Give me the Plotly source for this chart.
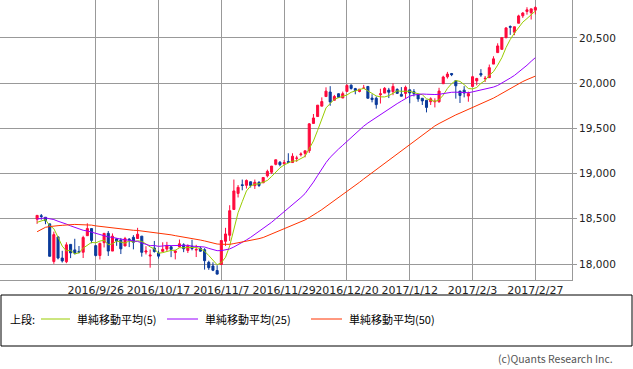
import plotly.graph_objects as go

# ---------------- data ----------------
dates = [
    "2016/9/6", "2016/9/7", "2016/9/8", "2016/9/9", "2016/9/12", "2016/9/13", "2016/9/14", "2016/9/15", "2016/9/16",
    "2016/9/19", "2016/9/20", "2016/9/21", "2016/9/22", "2016/9/23", "2016/9/26", "2016/9/27", "2016/9/28", "2016/9/29",
    "2016/9/30", "2016/10/3", "2016/10/4", "2016/10/5", "2016/10/6", "2016/10/7", "2016/10/10", "2016/10/11",
    "2016/10/12", "2016/10/13", "2016/10/14", "2016/10/17", "2016/10/18", "2016/10/19", "2016/10/20", "2016/10/21",
    "2016/10/24", "2016/10/25", "2016/10/26", "2016/10/27", "2016/10/28", "2016/10/31", "2016/11/1", "2016/11/2",
    "2016/11/3", "2016/11/4", "2016/11/7", "2016/11/8", "2016/11/9", "2016/11/10", "2016/11/11", "2016/11/14",
    "2016/11/15", "2016/11/16", "2016/11/17", "2016/11/18", "2016/11/21", "2016/11/22", "2016/11/23", "2016/11/25",
    "2016/11/28", "2016/11/29", "2016/11/30", "2016/12/1", "2016/12/2", "2016/12/5", "2016/12/6", "2016/12/7",
    "2016/12/8", "2016/12/9", "2016/12/12", "2016/12/13", "2016/12/14", "2016/12/15", "2016/12/16", "2016/12/19",
    "2016/12/20", "2016/12/21", "2016/12/22", "2016/12/23", "2016/12/27", "2016/12/28", "2016/12/29", "2016/12/30",
    "2017/1/3", "2017/1/4", "2017/1/5", "2017/1/6", "2017/1/9", "2017/1/10", "2017/1/11", "2017/1/12", "2017/1/13",
    "2017/1/17", "2017/1/18", "2017/1/19", "2017/1/20", "2017/1/23", "2017/1/24", "2017/1/25", "2017/1/26",
    "2017/1/27", "2017/1/30", "2017/1/31", "2017/2/1", "2017/2/2", "2017/2/3", "2017/2/6", "2017/2/7", "2017/2/8",
    "2017/2/9", "2017/2/10", "2017/2/13", "2017/2/14", "2017/2/15", "2017/2/16", "2017/2/17", "2017/2/21",
    "2017/2/22", "2017/2/23", "2017/2/24", "2017/2/27",
]

opens = [
    18496, 18534, 18517, 18444, 18028, 18300, 18066, 18025, 18217, 18156, 18139, 18130, 18313, 18392, 18203,
    18094, 18236, 18339, 18143, 18279, 18265, 18199, 18275, 18295, 18282, 18308, 18132, 18088, 18177, 18121,
    18140, 18165, 18190, 18127, 18188, 18212, 18150, 18196, 18154, 18175, 18158, 18018, 17978, 17928, 17994,
    18251, 18318, 18603, 18781, 18876, 18870, 18909, 18866, 18904, 18898, 18975, 19015, 19102, 19125, 19108,
    19134, 19122, 19169, 19209, 19224, 19253, 19555, 19631, 19746, 19852, 19902, 19811, 19883, 19836, 19909,
    19978, 19940, 19908, 19943, 19964, 19835, 19833, 19872, 19890, 19924, 19906, 19931, 19876, 19887, 19926,
    19906, 19877, 19833, 19811, 19795, 19794, 19794, 19994, 20070, 20107, 20028, 19913, 19923, 19858, 19964,
    20025, 20107, 20049, 20061, 20211, 20338, 20374, 20504, 20627, 20564, 20663, 20745, 20793, 20780, 20808,
]
highs = [
    18538, 18553, 18517, 18444, 18358, 18300, 18146, 18240, 18217, 18279, 18199, 18312, 18450, 18392, 18203,
    18236, 18339, 18365, 18338, 18279, 18288, 18300, 18286, 18319, 18400, 18309, 18197, 18160, 18255, 18147,
    18240, 18245, 18200, 18156, 18271, 18229, 18217, 18268, 18212, 18192, 18175, 18036, 18019, 17986, 18263,
    18400, 18650, 18934, 18873, 18934, 18935, 18913, 18934, 18915, 18960, 19043, 19083, 19153, 19139, 19150,
    19225, 19225, 19197, 19235, 19252, 19558, 19659, 19757, 19843, 19954, 19967, 19870, 19887, 19907, 19988,
    19987, 19948, 19934, 19981, 19968, 19878, 19853, 19938, 19957, 19948, 19999, 19943, 19957, 19973, 19929,
    19935, 19878, 19836, 19811, 19843, 19833, 19949, 20082, 20125, 20113, 20028, 19913, 19967, 19907, 20081,
    20059, 20155, 20079, 20206, 20298, 20441, 20504, 20620, 20639, 20624, 20757, 20786, 20840, 20822, 20851,
]
lows = [
    18444, 18490, 18440, 18085, 18002, 18051, 18016, 18009, 18065, 18106, 18118, 18066, 18313, 18229, 18084,
    18050, 18183, 18089, 18143, 18201, 18110, 18199, 18187, 18162, 18282, 18081, 18106, 17959, 18126, 18060,
    18130, 18140, 18076, 18051, 18188, 18131, 18122, 18151, 18077, 18137, 17938, 17935, 17921, 17884, 17994,
    18200, 18255, 18603, 18736, 18815, 18835, 18846, 18830, 18851, 18897, 18958, 18995, 19092, 19080, 19100,
    19123, 19122, 19130, 19190, 19180, 19228, 19555, 19631, 19746, 19852, 19750, 19811, 19843, 19836, 19904,
    19929, 19877, 19899, 19941, 19833, 19788, 19718, 19775, 19890, 19835, 19867, 19887, 19855, 19832, 19778,
    19854, 19794, 19759, 19677, 19759, 19732, 19785, 19994, 20051, 20078, 19829, 19781, 19843, 19795, 19962,
    19976, 20070, 20013, 20061, 20211, 20338, 20374, 20496, 20534, 20531, 20663, 20722, 20758, 20704, 20761,
]
closes = [
    18538, 18526, 18479, 18085, 18325, 18066, 18034, 18212, 18123, 18120, 18129, 18293, 18392, 18261, 18094,
    18228, 18339, 18143, 18308, 18254, 18168, 18281, 18269, 18240, 18329, 18129, 18144, 18098, 18138, 18087,
    18162, 18203, 18162, 18145, 18223, 18169, 18199, 18170, 18161, 18142, 18037, 17959, 17931, 17888, 18260,
    18332, 18590, 18808, 18848, 18869, 18924, 18868, 18904, 18868, 18957, 19024, 19083, 19153, 19098, 19122,
    19124, 19192, 19171, 19216, 19252, 19550, 19615, 19757, 19797, 19912, 19793, 19853, 19843, 19884, 19975,
    19942, 19918, 19934, 19946, 19833, 19819, 19763, 19882, 19943, 19900, 19964, 19887, 19856, 19954, 19892,
    19886, 19826, 19804, 19732, 19827, 19800, 19913, 20068, 20101, 20094, 19971, 19864, 19891, 19885, 20071,
    20052, 20090, 20054, 20172, 20269, 20412, 20504, 20611, 20619, 20624, 20744, 20776, 20811, 20822, 20837,
]
# closes of the 49 sessions before the first candle (needed for the moving averages)
prior_closes = [
    17140, 17410, 17695, 17930, 17949, 17841, 17918, 17896, 18147, 18227, 18348, 18372, 18506, 18517, 18534,
    18559, 18595, 18518, 18571, 18494, 18473, 18473, 18456, 18432, 18404, 18314, 18355, 18353, 18544, 18529,
    18534, 18495, 18613, 18576, 18636, 18552, 18574, 18598, 18553, 18530, 18548, 18482, 18448, 18395, 18503,
    18454, 18401, 18419, 18492,
]

tick_dates = ["2016/9/26", "2016/10/17", "2016/11/7", "2016/11/29", "2016/12/20", "2017/1/12", "2017/2/3", "2017/2/27"]
y_ticks = [18000, 18500, 19000, 19500, 20000, 20500]
y_ticktext = ["18,000", "18,500", "19,000", "19,500", "20,000", "20,500"]

ma_periods = [5, 25, 50]
ma_names = ["単純移動平均(5)", "単純移動平均(25)", "単純移動平均(50)"]
ma_colors = ["#99CC00", "#9900FF", "#FF3300"]

# ---------------- derived ----------------
all_closes = prior_closes + closes
offset = len(prior_closes)


def sma(period):
    out = []
    for i in range(len(closes)):
        j = offset + i
        window = all_closes[j - period + 1:j + 1]
        out.append(sum(window) / period)
    return out


W, H = 633, 369
PX0, PX1, PY0, PY1 = 0, 572, 0, 280

UP = "#FF0A3C"
DOWN = "#0A3A9A"

fig = go.Figure()
fig.add_trace(go.Candlestick(
    x=dates, open=opens, high=highs, low=lows, close=closes,
    increasing=dict(line=dict(color=UP, width=1), fillcolor=UP),
    decreasing=dict(line=dict(color=DOWN, width=1), fillcolor=DOWN),
    whiskerwidth=0, hoverinfo="skip", showlegend=False,
))
for p, c in zip(ma_periods, ma_colors):
    fig.add_trace(go.Scatter(
        x=dates, y=sma(p), mode="lines", line=dict(color=c, width=1),
        hoverinfo="skip", showlegend=False,
    ))

n_first = -37.1 / 4.187
n_last = (572 - 37.1) / 4.187

fig.update_layout(
    width=W, height=H,
    margin=dict(l=0, r=0, t=0, b=0, pad=0, autoexpand=False),
    paper_bgcolor="white", plot_bgcolor="white",
    showlegend=False,
    xaxis=dict(
        type="category", domain=[PX0 / W, PX1 / W],
        range=[n_first, n_last], automargin=False,
        tickmode="array", tickvals=tick_dates, ticktext=tick_dates, tickangle=0,
        showgrid=True, gridcolor="#999999", gridwidth=1,
        showline=True, linecolor="#999999", linewidth=1, mirror=True,
        ticks="", tickfont=dict(family="DejaVu Sans", size=11, color="#222222"),
        rangeslider=dict(visible=False), fixedrange=True,
    ),
    yaxis=dict(
        domain=[1 - PY1 / H, 1 - PY0 / H], automargin=False,
        range=[17823, 20920], side="right",
        tickmode="array", tickvals=y_ticks, ticktext=y_ticktext,
        showgrid=True, gridcolor="#999999", gridwidth=1,
        showline=True, linecolor="#999999", linewidth=1, mirror=True,
        ticks="outside", ticklen=4, tickcolor="#999999",
        tickfont=dict(family="DejaVu Sans", size=10.5, color="#222222"),
        zeroline=False, fixedrange=True,
    ),
)


def px(x):
    return x / W


def py(y):
    return 1 - y / H


shapes = [
    dict(type="rect", xref="paper", yref="paper", x0=px(1), x1=px(632), y0=py(295), y1=py(346),
         line=dict(color="black", width=1), fillcolor="rgba(0,0,0,0)"),
]
annotations = [
    dict(text="上段:", x=px(8), y=py(319), xref="paper", yref="paper", xanchor="left", yanchor="middle",
         showarrow=False, font=dict(family="Noto Sans CJK JP", size=11, color="black")),
    dict(text="(c)Quants Research Inc.", x=px(615), y=py(358), xref="paper", yref="paper",
         xanchor="right", yanchor="middle", showarrow=False,
         font=dict(family="Noto Sans CJK JP", size=10.5, color="#555555")),
]
legend_line_x = [(41, 70), (167, 198), (311, 342)]
legend_text_x = [75, 203, 347]
for (a, b), tx, name, c in zip(legend_line_x, legend_text_x, ma_names, ma_colors):
    shapes.append(dict(type="line", xref="paper", yref="paper", x0=px(a), x1=px(b), y0=py(319), y1=py(319),
                       line=dict(color=c, width=1)))
    annotations.append(dict(text=name, x=px(tx), y=py(319), xref="paper", yref="paper", xanchor="left",
                            yanchor="middle", showarrow=False,
                            font=dict(family="Noto Sans CJK JP", size=11, color="black")))

fig.update_layout(shapes=shapes, annotations=annotations)
fig.write_html(
    "out.html",
    config={"displayModeBar": False, "staticPlot": True},
    post_script="document.body.style.margin='0';document.body.style.overflow='hidden';",
)
